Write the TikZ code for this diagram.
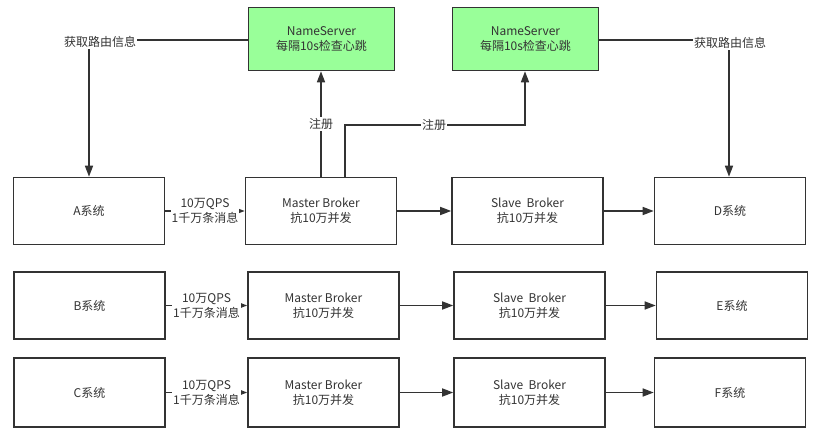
\documentclass[tikz,border=0pt]{standalone}
\usepackage{fontspec}
\setmainfont{Noto Sans CJK SC}
\usetikzlibrary{arrows.meta}
\definecolor{ink}{HTML}{333333}
\definecolor{nsgreen}{HTML}{99FF99}
\begin{document}
\begin{tikzpicture}[x=1pt,y=-1pt,
  font=\fontsize{12}{15}\selectfont,
  every node/.style={text=ink},
  box/.style={draw=ink, line width=1.6pt, fill=white, minimum width=151pt, minimum height=67pt, align=center, inner sep=0pt},
  nsbox/.style={box, fill=nsgreen, minimum width=146pt, minimum height=63pt},
  conn/.style={draw=ink, line width=1.6pt, -{Triangle[length=11pt,width=8pt]}},
  plain/.style={draw=ink, line width=1.6pt},
  lbl/.style={fill=white, inner sep=1pt, align=center}]
\useasboundingbox (0,0) rectangle (823,441);

% name servers
\node[nsbox] (n1) at (321.5,39) {NameServer\\每隔10s检查心跳};
\node[nsbox] (n2) at (525.5,39) {NameServer\\每隔10s检查心跳};

% first row
\node[box] (a)  at (89,211)    {A系统};
\node[box] (m1) at (321,211)   {Master Broker\\抗10万并发};
\node[box] (s1) at (527.5,211) {Slave\ \ Broker\\抗10万并发};
\node[box] (d)  at (730,211)   {D系统};

% second row
\node[box] (b)  at (89.5,305.5)  {B系统};
\node[box] (m2) at (323.5,305.5) {Master Broker\\抗10万并发};
\node[box] (s2) at (529.5,305.5) {Slave\ \ Broker\\抗10万并发};
\node[box] (e)  at (732,305.5)   {E系统};

% third row
\node[box, minimum height=69pt] (c)  at (89.5,392.5)  {C系统};
\node[box, minimum height=69pt] (m3) at (323.5,392.5) {Master Broker\\抗10万并发};
\node[box, minimum height=69pt] (s3) at (529.5,392.5) {Slave\ \ Broker\\抗10万并发};
\node[box, minimum height=69pt] (f)  at (730,392.5)   {F系统};

% producers to masters
\draw[conn] (a) -- node[lbl] {10万QPS\\1千万条消息} (m1);
\draw[conn] (b) -- node[lbl] {10万QPS\\1千万条消息} (m2);
\draw[conn] (c) -- node[lbl] {10万QPS\\1千万条消息} (m3);

% masters to slaves, slaves to consumers
\draw[conn] (m1) -- (s1);
\draw[conn] (s1) -- (d);
\draw[conn] (m2) -- (s2);
\draw[conn] (s2) -- (e);
\draw[conn] (m3) -- (s3);
\draw[conn] (s3) -- (f);

% routing info lookup
\coordinate (ra) at (89,40);
\coordinate (rd) at (729,40);
\draw[conn] (n1.west |- ra) -- (ra) -- (a.north -| ra);
\node[lbl] (la) at (100,42) {获取路由信息};
\draw[conn] (n2.east |- rd) -- (rd) -- (d.north -| rd);
\node[lbl] (ld) at (730,43) {获取路由信息};

% registration with the name servers
\coordinate (r1) at (321,125);
\draw[conn] (m1.north -| r1) -- node[lbl, pos=0.5] {注册} (n1.south -| r1);
\coordinate (r2a) at (345,125);
\coordinate (r2b) at (525,125);
\draw[conn] (m1.north -| r2a) -- (r2a) -- (r2b) -- (n2.south -| r2b);
\node[lbl] (lr2) at (434,125) {注册};
\end{tikzpicture}
\end{document}
